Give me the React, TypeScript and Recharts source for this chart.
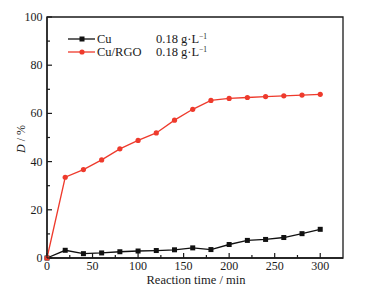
import React from 'react';
import { LineChart, Line, XAxis, YAxis, Legend, ReferenceArea } from 'recharts';

const times = [0, 20, 40, 60, 80, 100, 120, 140, 160, 180, 200, 220, 240, 260, 280, 300];
const cuValues = [0, 3.2, 1.8, 2.1, 2.6, 2.9, 3.1, 3.4, 4.2, 3.5, 5.6, 7.3, 7.7, 8.5, 10.1, 11.9];
const cuRgoValues = [0, 33.5, 36.7, 40.7, 45.3, 48.8, 51.9, 57.2, 61.7, 65.4, 66.2, 66.6, 67.0, 67.3, 67.6, 67.9];
const xTicks = [0, 25, 50, 75, 100, 125, 150, 175, 200, 225, 250, 275, 300];
const yTicks = [0, 10, 20, 30, 40, 50, 60, 70, 80, 90, 100];
const seriesNames = ['Cu', 'Cu/RGO'];
const concentrationLabel = '0.18 g·L';
const xTitle = 'Reaction time / min';

const data = times.map((t, i) => ({ t, cu: cuValues[i], cuRgo: cuRgoValues[i] }));

const FONT = '"Liberation Serif", "Times New Roman", serif';
const RED = '#ee3a2c';
const INK = '#1a1a1a';

const XTick = (props: any) => {
  const { x, y, payload } = props;
  const major = payload.value % 50 === 0;
  return (
    <g>
      <line x1={x} x2={x} y1={y} y2={y - (major ? 5 : 3)} stroke={INK} strokeWidth={1.2} />
      {major && (
        <text x={x} y={y + 11.8} textAnchor="middle" fontSize={12} fontFamily={FONT} fill={INK}>
          {payload.value}
        </text>
      )}
    </g>
  );
};

const YTick = (props: any) => {
  const { x, y, payload } = props;
  const major = payload.value % 20 === 0;
  return (
    <g>
      <line x1={x} x2={x + (major ? 5 : 3)} y1={y} y2={y} stroke={INK} strokeWidth={1.2} />
      {major && (
        <text x={x - 4.5} y={y + 4} textAnchor="end" fontSize={12} fontFamily={FONT} fill={INK}>
          {payload.value}
        </text>
      )}
    </g>
  );
};

const XLabel = (props: any) => {
  const { viewBox } = props;
  const cx = viewBox.x + viewBox.width / 2;
  return (
    <text x={cx + 1} y={284} textAnchor="middle" fontSize={12.5} fontFamily={FONT} fill={INK}>
      {xTitle}
    </text>
  );
};

const YLabel = () => {
  const cx = 25;
  const cy = 139;
  return (
    <text
      x={cx}
      y={cy}
      transform={`rotate(-90 ${cx} ${cy})`}
      textAnchor="middle"
      fontSize={12}
      fontFamily={FONT}
      fill={INK}
    >
      <tspan fontStyle="italic">D</tspan>
      <tspan> / %</tspan>
    </text>
  );
};

const LegendContent = (props: any) => {
  const { payload } = props;
  return (
    <svg width={160} height={30} style={{ display: 'block' }}>
      {(payload || []).map((p: any, i: number) => {
        const cy = 6 + i * 13;
        const isRed = p.dataKey === 'cuRgo';
        return (
          <g key={i}>
            <line x1={5} x2={32} y1={cy} y2={cy} stroke={p.color} strokeWidth={1.3} />
            {isRed ? (
              <circle cx={19} cy={cy} r={2.6} fill={p.color} />
            ) : (
              <rect x={16.5} y={cy - 2.5} width={5} height={5} fill={p.color} />
            )}
            <text x={34} y={cy + 4} fontSize={12.5} fontFamily={FONT} fill={INK}>
              {p.value}
            </text>
            <text x={93} y={cy + 4} fontSize={12.5} fontFamily={FONT} fill={INK}>
              {concentrationLabel}
              <tspan dy={-4} fontSize={7.5}>−1</tspan>
            </text>
          </g>
        );
      })}
    </svg>
  );
};

const SquareDot = (props: any) => {
  const { cx, cy } = props;
  if (cx == null || cy == null) return null;
  return <rect x={cx - 2.5} y={cy - 2.5} width={5} height={5} fill="#111" />;
};

export default function App() {
  return (
    <div style={{ position: 'absolute', left: 0, top: 0, width: 373, height: 293, background: '#fff' }}>
      <LineChart
        width={373}
        height={293}
        data={data}
        margin={{ top: 17, right: 30, bottom: 0, left: 0 }}
      >
        <XAxis
          dataKey="t"
          type="number"
          domain={[0, 325]}
          ticks={xTicks}
          interval={0}
          tickSize={0}
          tickMargin={0}
          tickLine={false}
          tick={<XTick />}
          axisLine={{ stroke: INK, strokeWidth: 1.3 }}
          height={35}
          label={{ content: <XLabel /> }}
        />
        <YAxis
          type="number"
          domain={[0, 100]}
          ticks={yTicks}
          interval={0}
          tickSize={0}
          tickMargin={0}
          tickLine={false}
          tick={<YTick />}
          axisLine={{ stroke: INK, strokeWidth: 1.3 }}
          width={47}
          label={{ content: <YLabel /> }}
        />
        <ReferenceArea x1={0} x2={325} y1={0} y2={100} fill="none" stroke={INK} strokeWidth={1.3} ifOverflow="visible" />
        <Legend
          layout="vertical"
          verticalAlign="middle"
          align="center"
          content={<LegendContent />}
          wrapperStyle={{ left: 63, top: 33, width: 160, height: 30 }}
        />
        <Line
          name={seriesNames[0]}
          dataKey="cu"
          stroke="#111"
          strokeWidth={1.3}
          dot={<SquareDot />}
          isAnimationActive={false}
        />
        <Line
          name={seriesNames[1]}
          dataKey="cuRgo"
          stroke={RED}
          strokeWidth={1.3}
          dot={{ r: 2.6, fill: RED, stroke: RED, strokeWidth: 0 }}
          isAnimationActive={false}
        />
      </LineChart>
    </div>
  );
}
